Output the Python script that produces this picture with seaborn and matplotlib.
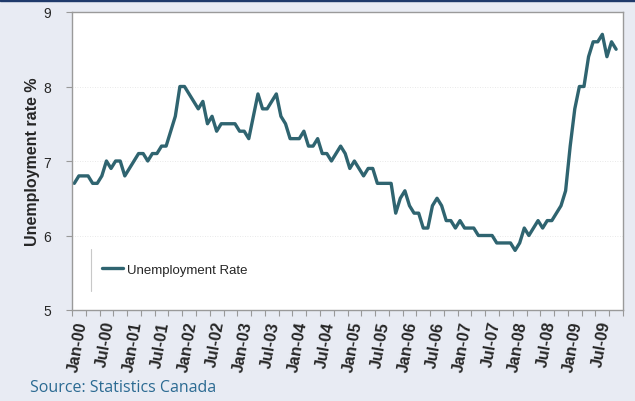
import numpy as np
import pandas as pd
import matplotlib.pyplot as plt
import seaborn as sns
from matplotlib.lines import Line2D
from matplotlib.patches import Rectangle

# monthly unemployment rate, Jan-2000 .. Nov-2009
rate = [6.7, 6.8, 6.8, 6.8, 6.7, 6.7, 6.8, 7.0, 6.9, 7.0, 7.0, 6.8,
        6.9, 7.0, 7.1, 7.1, 7.0, 7.1, 7.1, 7.2, 7.2, 7.4, 7.6, 8.0,
        8.0, 7.9, 7.8, 7.7, 7.8, 7.5, 7.6, 7.4, 7.5, 7.5, 7.5, 7.5,
        7.4, 7.4, 7.3, 7.6, 7.9, 7.7, 7.7, 7.8, 7.9, 7.6, 7.5, 7.3,
        7.3, 7.3, 7.4, 7.2, 7.2, 7.3, 7.1, 7.1, 7.0, 7.1, 7.2, 7.1,
        6.9, 7.0, 6.9, 6.8, 6.9, 6.9, 6.7, 6.7, 6.7, 6.7, 6.3, 6.5,
        6.6, 6.4, 6.3, 6.3, 6.1, 6.1, 6.4, 6.5, 6.4, 6.2, 6.2, 6.1,
        6.2, 6.1, 6.1, 6.1, 6.0, 6.0, 6.0, 6.0, 5.9, 5.9, 5.9, 5.9,
        5.8, 5.9, 6.1, 6.0, 6.1, 6.2, 6.1, 6.2, 6.2, 6.3, 6.4, 6.6,
        7.2, 7.7, 8.0, 8.0, 8.4, 8.6, 8.6, 8.7, 8.4, 8.6, 8.5]

n_slots = 120  # axis runs to Dec-09
month_labels = ['Jan-00', 'Jul-00', 'Jan-01', 'Jul-01', 'Jan-02', 'Jul-02',
                'Jan-03', 'Jul-03', 'Jan-04', 'Jul-04', 'Jan-05', 'Jul-05',
                'Jan-06', 'Jul-06', 'Jan-07', 'Jul-07', 'Jan-08', 'Jul-08',
                'Jan-09', 'Jul-09']
y_ticks = [5, 6, 7, 8, 9]

df = pd.DataFrame({'idx': np.arange(len(rate)), 'rate': rate})

bg = '#E8EBF3'
line_col = '#2F6470'

sns.set_style('white')
plt.rcParams['font.family'] = ['Liberation Sans', 'DejaVu Sans']

fig = plt.figure(figsize=(6.35, 4.02), dpi=100, facecolor=bg)
ax = fig.add_axes([72 / 635, 1 - 311 / 402, 551 / 635, 298 / 402])
ax.set_facecolor('white')

sns.lineplot(data=df, x='idx', y='rate', ax=ax, color=line_col,
             linewidth=2.4, label='Unemployment Rate')

ax.set_xlim(-0.5, n_slots - 0.5)
ax.set_ylim(5, 9)

# y axis
ax.set_yticks(y_ticks)
ax.set_yticklabels([str(t) for t in y_ticks], fontsize=10)
ax.tick_params(axis='y', direction='out', length=4, width=0.8,
               color='#999999', pad=11, left=True)
ax.set_ylabel('Unemployment rate %', fontsize=11.5, fontweight='bold')
ax.yaxis.set_label_coords(-0.058, 0.5)

# faint dotted grid
for v in [6, 7, 8]:
    ax.axhline(v, color='#E2E2E2', linewidth=0.6, linestyle=(0, (1, 2)), zorder=0)

# x axis: labels every 6 months, tick marks every 3 months
ax.set_xticks(np.arange(0, n_slots, 6))
ax.set_xticklabels(month_labels, fontsize=11.5, fontweight='bold',
                   rotation=80, ha='right', rotation_mode='anchor')
ax.set_xticks(np.arange(-0.5, n_slots, 3), minor=True)
ax.tick_params(axis='x', which='major', length=0, pad=7)
ax.tick_params(axis='x', which='minor', direction='out', length=4,
               width=0.8, color='#999999', bottom=True)
ax.set_xlabel('')

for s in ax.spines.values():
    s.set_color('#9A9A9A')
    s.set_linewidth(1.0)

# legend
leg = ax.legend(loc='center left', bbox_to_anchor=(0.032, 0.135), frameon=False,
                fontsize=9.5, handlelength=1.6, handletextpad=0.35)

# thin grey stroke left of the legend
ax.add_line(Line2D([19 / 551, 19 / 551], [(311 - 292) / 298, (311 - 250) / 298],
                   transform=ax.transAxes, color='#C8C8C8', linewidth=0.8))

# dark rule along the top edge
fig.add_artist(Rectangle((0, 1 - 2 / 402), 1, 2 / 402, transform=fig.transFigure,
                         color='#1F3A6B', zorder=10))

fig.text(30 / 635, 1 - 392 / 402, 'Source: Statistics Canada', fontsize=11.5,
         color='#2B6A92', family=['Open Sans', 'DejaVu Sans'], va='baseline')

fig.savefig('out.png', dpi=100, facecolor=bg)
